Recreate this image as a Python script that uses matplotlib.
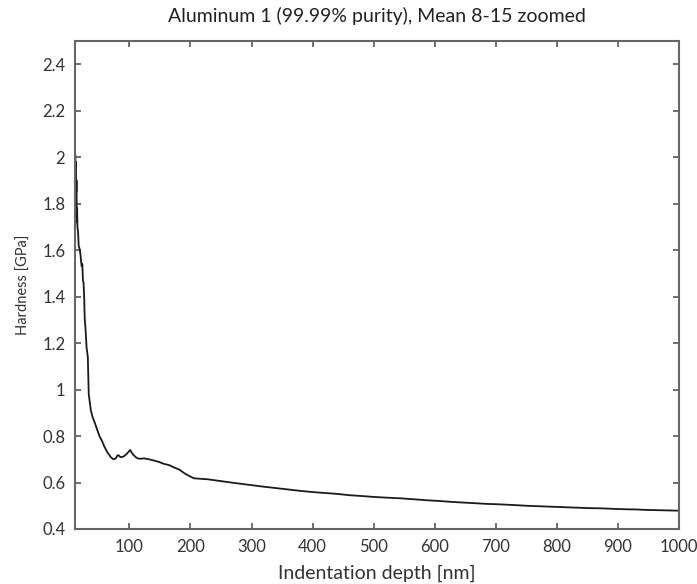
import numpy as np
import matplotlib.pyplot as plt
from matplotlib.ticker import FuncFormatter

# mean hardness curve
depth = [11.5, 12, 12.5, 13, 13.5, 14, 14.5, 15, 16, 17, 18, 19, 20, 21, 22, 23,
         24, 25, 26, 27, 28, 30, 32, 33.5, 35, 37, 40, 43, 47, 51, 55, 59, 64,
         70, 74, 78, 80, 82, 85, 89, 92, 94.5, 98, 101.5, 104, 107, 110, 113.5,
         118, 124, 132, 141, 149, 157, 165, 173, 182, 190, 198, 206, 217, 228,
         250, 275, 299, 320, 340, 360, 380, 400, 420, 440, 462, 480, 500, 520,
         544, 565, 585, 605, 625, 645, 665, 685, 707, 730, 750, 770, 789, 810,
         830, 850, 870, 890, 910, 930, 947, 965, 980, 996, 1000]
hardness = [2.01, 1.95, 1.98, 1.85, 1.90, 1.72, 1.78, 1.70, 1.68, 1.62, 1.61,
            1.60, 1.58, 1.55, 1.53, 1.54, 1.47, 1.46, 1.40, 1.30, 1.27, 1.18,
            1.14, 0.98, 0.95, 0.91, 0.88, 0.86, 0.83, 0.80, 0.78, 0.755, 0.73,
            0.708, 0.70, 0.704, 0.715, 0.718, 0.71, 0.71, 0.715, 0.72, 0.73,
            0.74, 0.728, 0.718, 0.71, 0.704, 0.702, 0.704, 0.70, 0.694, 0.688,
            0.68, 0.675, 0.665, 0.655, 0.64, 0.628, 0.618, 0.616, 0.614, 0.606,
            0.597, 0.589, 0.582, 0.576, 0.570, 0.564, 0.559, 0.555, 0.551,
            0.545, 0.542, 0.538, 0.535, 0.532, 0.528, 0.524, 0.521, 0.517,
            0.514, 0.511, 0.508, 0.506, 0.503, 0.500, 0.498, 0.496, 0.494,
            0.492, 0.490, 0.489, 0.487, 0.485, 0.484, 0.482, 0.481, 0.480,
            0.479, 0.479]

xticks = [100, 200, 300, 400, 500, 600, 700, 800, 900, 1000]
yticks = [0.4, 0.6, 0.8, 1.0, 1.2, 1.4, 1.6, 1.8, 2.0, 2.2, 2.4]

plt.rcParams['font.family'] = ['Lato', 'DejaVu Sans']

fig = plt.figure(figsize=(6.97, 5.84), dpi=100)
ax = fig.add_axes([0.1076, 0.0942, 0.8666, 0.8356])

ax.plot(depth, hardness, color='#1a1a1a', lw=1.3)

ax.set_xlim(11, 1000)
ax.set_ylim(0.4, 2.5)
ax.set_xticks(xticks)
ax.set_yticks(yticks)
ax.yaxis.set_major_formatter(FuncFormatter(lambda v, p: '%g' % round(v, 2)))

ax.tick_params(direction='in', length=4, width=1.2, top=True, right=True,
               labelsize=12, colors='#555555', labelcolor='#333333', pad=7)
for s in ax.spines.values():
    s.set_color('#666666')
    s.set_linewidth(1.5)

ax.set_title('Aluminum 1 (99.99% purity), Mean 8-15 zoomed', fontsize=14,
             color='#222222', pad=14)
ax.set_xlabel('Indentation depth [nm]', fontsize=14, color='#333333', labelpad=7)
ax.set_ylabel('Hardness [GPa]', fontsize=10.5, color='#333333', labelpad=8)

fig.savefig('out.png', dpi=100)
